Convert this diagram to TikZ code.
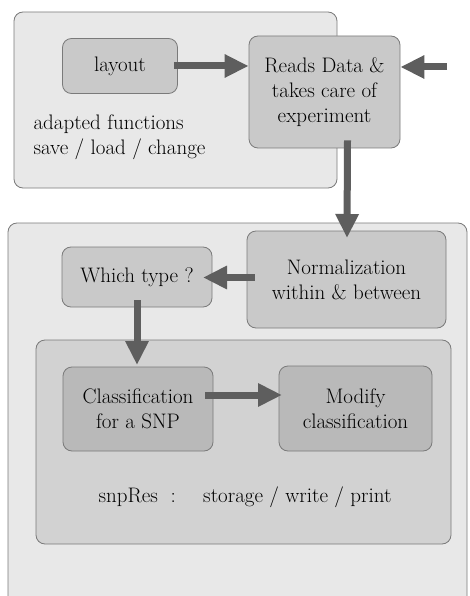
\documentclass[tikz,border=0pt]{standalone}
\usetikzlibrary{arrows.meta}
\definecolor{outerfill}{HTML}{E8E8E8}
\definecolor{boxfill}{HTML}{C9C9C9}
\definecolor{innerfill}{HTML}{D2D2D2}
\definecolor{darkfill}{HTML}{B9B9B9}
\definecolor{arrowgray}{HTML}{5E5E5E}
\definecolor{edgegray}{HTML}{7A7A7A}

\begin{document}
\begin{tikzpicture}[x=1pt,y=-1pt]
    \tikzstyle{container}=[draw=edgegray,line width=0.8pt,rounded corners=9pt,fill=outerfill]
    \tikzstyle{every node}=[font=\fontsize{21}{25}\selectfont,text=black]
    \tikzstyle{box}=[draw=edgegray,line width=0.8pt,rounded corners=9pt,fill=boxfill,align=center,inner sep=0pt]
    \tikzstyle{darkbox}=[box,fill=darkfill]
    \tikzstyle{fat}=[draw=arrowgray,line width=7pt,-{Triangle[length=24pt,width=22pt]}]
    \useasboundingbox (0,0) rectangle (469,596);
    \fill[white] (0,0) rectangle (469,596);
    % the two outer frames and the inner frame
    \draw[container] (14,12) rectangle (337,188);
    \draw[container] (8,223) rectangle (467,606);
    \draw[container,fill=innerfill] (36,340) rectangle (451,544);
    % boxes
    \node[box,minimum width=115pt,minimum height=55pt] (layout) at (120,66) {layout};
    \node[box,minimum width=151pt,minimum height=112pt] (reads) at (324.5,92) {Reads Data \&\\takes care of\\experiment};
    \node[anchor=west,align=left] (adapted) at (30,137) {adapted functions\\save / load / change};
    \coordinate (input) at (447,67);
    \node[box,minimum width=199pt,minimum height=97pt] (norm) at (346.5,279.5) {Normalization\\within \& between};
    \node[box,minimum width=150pt,minimum height=60pt] (type) at (137,277) {Which type ?};
    \node[darkbox,minimum width=150pt,minimum height=84pt] (classif) at (138,409) {Classification\\for a SNP};
    \node[darkbox,minimum width=153pt,minimum height=85pt] (modify) at (355.5,408.5) {Modify\\classification};
    \node (snpres) at (245,497) {snpRes \ :\quad\ storage / write / print};
    % arrows
    \draw[fat] (layout.east) ++(-4,0) -- (reads.west |- layout.east);
    \draw[fat] (input) -- (reads.east |- input);
    \draw[fat] (reads.south) ++(23,-8) -- (347,238);
    \draw[fat] (norm.west) ++(8,-2) -- (203,277.5);
    \draw[fat] (type.south) ++(0,-7) -- (137,365);
    \draw[fat] (classif.east) ++(-8,-14) -- (282,395);
\end{tikzpicture}
\end{document}
